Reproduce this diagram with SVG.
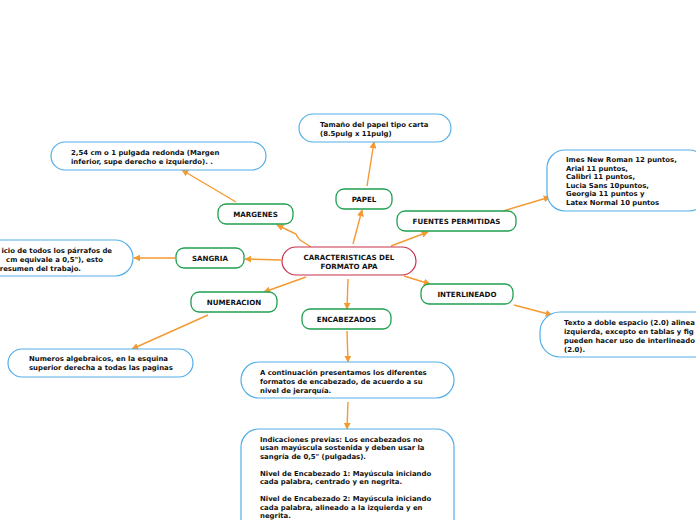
<svg xmlns="http://www.w3.org/2000/svg" width="696" height="520" viewBox="0 0 696 520">
<defs>
<marker id="ah" viewBox="0 0 10 10" refX="9" refY="5" markerWidth="7" markerHeight="7" markerUnits="userSpaceOnUse" orient="auto">
<path d="M0,0 L10,5 L0,10 z" fill="#f39a32"/>
</marker>
</defs>
<style>
.bg{fill:#ffffff}
.c{fill:none;stroke:#f39a32;stroke-width:1.4;marker-end:url(#ah)}
.main{fill:#fff;stroke:#c8304c;stroke-width:1.2}
.sub{fill:#fff;stroke:#20a050;stroke-width:1.3}
.leaf{fill:#fff;stroke:#52aee8;stroke-width:1.2}
.lb{font-family:"DejaVu Sans",Verdana,sans-serif;font-weight:bold;font-size:7.1px;fill:#111;text-anchor:middle}
.tx{font-family:"DejaVu Sans",Verdana,sans-serif;font-weight:bold;font-size:6.9px;fill:#111}
</style>
<rect class="bg" x="0" y="0" width="696" height="520"/>
<g id="connectors">
<path class="c" d="M311,247 L300,240 Q297,237 296,234 L277,225"/>
<path class="c" d="M353,244 L362,210"/>
<path class="c" d="M391,246 L428,232"/>
<path class="c" d="M281,260 L245,259"/>
<path class="c" d="M306,277 L264,292"/>
<path class="c" d="M348,279 L347,309"/>
<path class="c" d="M404,276 L430,284"/>
<path class="c" d="M236,202 L182,170"/>
<path class="c" d="M367,186 L374,142"/>
<path class="c" d="M503,211 L550,197"/>
<path class="c" d="M175,258 L134,258"/>
<path class="c" d="M208,315 L132,349"/>
<path class="c" d="M514,305 L552,315"/>
<path class="c" d="M347,331 L348,362"/>
<path class="c" d="M348,402 L347,429"/>
</g>
<g id="n-main">
<rect class="main" x="282" y="247" width="134" height="28" rx="14"/>
<text class="lb" x="349" y="260">CARACTERISTICAS DEL</text>
<text class="lb" x="349" y="269">FORMATO APA</text>
</g>
<g id="n-margenes">
<rect class="sub" x="218" y="204" width="75" height="20" rx="8"/>
<text class="lb" x="255.5" y="216.5">MARGENES</text>
</g>
<g id="n-papel">
<rect class="sub" x="336" y="189" width="56" height="20" rx="8"/>
<text class="lb" x="364" y="201.5">PAPEL</text>
</g>
<g id="n-fuentes">
<rect class="sub" x="397" y="211" width="119" height="20" rx="8"/>
<text class="lb" x="456.5" y="223.5">FUENTES PERMITIDAS</text>
</g>
<g id="n-sangria">
<rect class="sub" x="176" y="248" width="68" height="20" rx="8"/>
<text class="lb" x="210" y="260.5">SANGRIA</text>
</g>
<g id="n-numeracion">
<rect class="sub" x="191" y="292" width="86" height="20" rx="8"/>
<text class="lb" x="234" y="304.5">NUMERACION</text>
</g>
<g id="n-encabezados">
<rect class="sub" x="302" y="309" width="89" height="20" rx="8"/>
<text class="lb" x="346.5" y="321.5">ENCABEZADOS</text>
</g>
<g id="n-interlineado">
<rect class="sub" x="421" y="284" width="92" height="20" rx="8"/>
<text class="lb" x="467" y="296.5">INTERLINEADO</text>
</g>
<g id="l-margenes">
<rect class="leaf" x="51" y="142" width="215" height="28" rx="14"/>
<text class="tx" x="71" y="155">2,54 cm o 1 pulgada redonda (Margen</text>
<text class="tx" x="71" y="164">inferior, supe derecho e izquierdo). .</text>
</g>
<g id="l-papel">
<rect class="leaf" x="299" y="114" width="152" height="28" rx="14"/>
<text class="tx" x="320" y="127">Tamaño del papel tipo carta</text>
<text class="tx" x="320" y="136">(8.5pulg x 11pulg)</text>
</g>
<g id="l-fuentes">
<rect class="leaf" x="547" y="150" width="160" height="61" rx="18"/>
<text class="tx" x="566" y="162">Imes New Roman 12 puntos,</text>
<text class="tx" x="566" y="170.6">Arial 11 puntos,</text>
<text class="tx" x="566" y="179.2">Calibri 11 puntos,</text>
<text class="tx" x="566" y="187.8">Lucia Sans 10puntos,</text>
<text class="tx" x="566" y="196.4">Georgia 11 puntos y</text>
<text class="tx" x="566" y="205">Latex Normal 10 puntos</text>
</g>
<g id="l-sangria">
<rect class="leaf" x="-40" y="240" width="173" height="36" rx="18"/>
<text class="tx" x="112" y="253" text-anchor="end">icio de todos los párrafos de</text>
<text class="tx" x="103" y="262" text-anchor="end">cm equivale a 0,5"), esto</text>
<text class="tx" x="81" y="271" text-anchor="end">resumen del trabajo.</text>
</g>
<g id="l-interlineado">
<rect class="leaf" x="540" y="312" width="180" height="45" rx="20"/>
<text class="tx" x="564" y="325">Texto a doble espacio (2.0) alinea</text>
<text class="tx" x="564" y="334">izquierda, excepto en tablas y fig</text>
<text class="tx" x="564" y="343">pueden hacer uso de interlineado</text>
<text class="tx" x="564" y="352">(2.0).</text>
</g>
<g id="l-numeracion">
<rect class="leaf" x="8" y="349" width="185" height="28" rx="14"/>
<text class="tx" x="29" y="361">Numeros algebraicos, en la esquina</text>
<text class="tx" x="29" y="370">superior derecha a todas las paginas</text>
</g>
<g id="l-encab1">
<rect class="leaf" x="241" y="362" width="213" height="36" rx="18"/>
<text class="tx" x="260" y="374.5">A continuación presentamos los diferentes</text>
<text class="tx" x="260" y="383.5">formatos de encabezado, de acuerdo a su</text>
<text class="tx" x="260" y="392.5">nivel de jerarquía.</text>
</g>
<g id="l-encab2">
<rect class="leaf" x="241" y="429" width="213" height="110" rx="18"/>
<text class="tx" x="260" y="441.5">Indicaciones previas: Los encabezados no</text>
<text class="tx" x="260" y="450">usan mayúscula sostenida y deben usar la</text>
<text class="tx" x="260" y="458.5">sangría de 0,5" (pulgadas).</text>
<text class="tx" x="260" y="475.5">Nivel de Encabezado 1: Mayúscula iniciando</text>
<text class="tx" x="260" y="484">cada palabra, centrado y en negrita.</text>
<text class="tx" x="260" y="501">Nivel de Encabezado 2: Mayúscula iniciando</text>
<text class="tx" x="260" y="509.5">cada palabra, alineado a la izquierda y en</text>
<text class="tx" x="260" y="518">negrita.</text>
</g>
</svg>
